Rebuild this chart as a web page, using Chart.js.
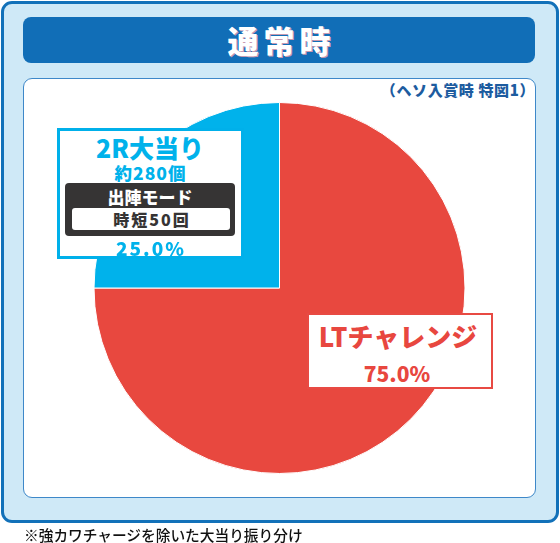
<!DOCTYPE html>
<html lang="ja">
<head>
<meta charset="utf-8">
<script src="https://cdn.jsdelivr.net/npm/chart.js@4.4.1/dist/chart.umd.min.js"></script>
<style>
  html, body { margin: 0; padding: 0; background: #ffffff; }
  body { width: 560px; height: 543px; position: relative; overflow: hidden;
         font-family: "Noto Sans CJK JP", "Noto Sans", sans-serif; }
  .abs { position: absolute; box-sizing: border-box; }
  #outer { left: 1px; top: 1px; width: 558px; height: 522px; border: 3.5px solid #1271b9;
           border-radius: 11px; background: #cfe9f7; }
  #titleBar { left: 23px; top: 17px; width: 512px; height: 46px; background: #116eb7; border-radius: 8px; }
  #titleText { left: 23px; top: 17px; width: 512px; height: 46px; line-height: 46px; text-align: center;
               color: #fff; font-weight: 900; font-size: 31px; letter-spacing: 5px; padding-left: 5px;
               text-shadow: 1px 1px 0 rgba(225,160,175,0.9); }
  #inner { left: 23px; top: 78px; width: 513px; height: 420px; background: #fff;
           border: 1.5px solid #3e88c9; border-radius: 9px; }
  #caption { right: 25px; top: 80px; height: 20px; line-height: 20px; color: #1d5c9f;
             font-weight: 900; font-size: 15px; letter-spacing: 0.6px; white-space: nowrap; }
  #chartWrap { left: 0; top: 0; width: 560px; height: 543px; }
  .t { position: absolute; white-space: nowrap; font-weight: 900; text-align: center; transform: translate(-50%, -50%); }
  #blueBox { left: 57px; top: 128px; width: 187px; height: 131px; border: 3px solid #00b0ea; background: #fff; }
  #darkBox { left: 65px; top: 183px; width: 170px; height: 53px; background: #363434; border-radius: 4px; }
  #darkInner { left: 72px; top: 208px; width: 158px; height: 22px; background: #fff; border-radius: 3px; }
  #redBox { left: 307px; top: 313px; width: 186px; height: 76px; border: 2px solid #e84a43; background: #fff; }
  #foot { left: 24px; top: 524px; height: 22px; line-height: 22px; font-size: 14.7px; color: #111;
          font-weight: 500; white-space: nowrap; }
</style>
</head>
<body>
<div id="outer" class="abs"></div>
<div id="titleBar" class="abs"></div>
<div id="titleText" class="abs"></div>
<div id="inner" class="abs"></div>
<div id="caption" class="abs"></div>
<div id="chartWrap" class="abs"><canvas id="c" width="560" height="543"></canvas></div>
<div id="labels"></div>
<div id="foot" class="abs"></div>

<script>
// ---- data ----
const title = "通常時";
const subtitle = "（ヘソ入賞時 特図1）";
const footnote = "※強カワチャージを除いた大当り振り分け";
const categories = ["LTチャレンジ", "2R大当り"];
const shares = [75.0, 25.0];
const sliceColors = ["#e8483f", "#00b2eb"];
const bonusPayout = "約280個";
const modeTitle = "出陣モード";
const modeDetail = "時短50回";

document.getElementById("titleText").textContent = title;
document.getElementById("caption").textContent = subtitle;
document.getElementById("foot").textContent = footnote;

new Chart(document.getElementById("c"), {
  type: "pie",
  data: {
    labels: categories,
    datasets: [{
      data: shares,
      backgroundColor: sliceColors,
      borderColor: "#ffffff",
      borderWidth: 1
    }]
  },
  options: {
    responsive: false,
    animation: false,
    layout: { padding: { left: 93, right: 94, top: 102, bottom: 69 } },
    plugins: { legend: { display: false }, tooltip: { enabled: false } }
  }
});

// ---- label boxes ----
const pct = v => v.toFixed(1) + "%";
const L = document.getElementById("labels");
function box(id) { const d = document.createElement("div"); d.id = id; d.className = "abs"; L.appendChild(d); }
function text(str, x, y, size, color, extra) {
  const d = document.createElement("div");
  d.className = "t";
  d.textContent = str;
  d.style.left = x + "px"; d.style.top = y + "px";
  d.style.fontSize = size + "px"; d.style.color = color;
  d.style.lineHeight = "1";
  if (extra) Object.assign(d.style, extra);
  L.appendChild(d);
}
box("blueBox"); box("darkBox"); box("darkInner"); box("redBox");
text(categories[1], 150, 147, 25, sliceColors[1], {});
text(bonusPayout, 150, 173, 17.5, sliceColors[1], { letterSpacing: "1px", paddingLeft: "1px" });
text(modeTitle, 150, 196, 17, "#ffffff", {});
text(modeDetail, 151, 219, 16, "#363434", { letterSpacing: "2px", paddingLeft: "2px" });
text(pct(shares[1]), 150, 247, 19, sliceColors[1], { letterSpacing: "2px", paddingLeft: "2px" });
text(categories[0], 398, 336, 26, "#e8473f", {});
text(pct(shares[0]), 397, 373, 21, "#e8473f", {});
</script>
</body>
</html>
